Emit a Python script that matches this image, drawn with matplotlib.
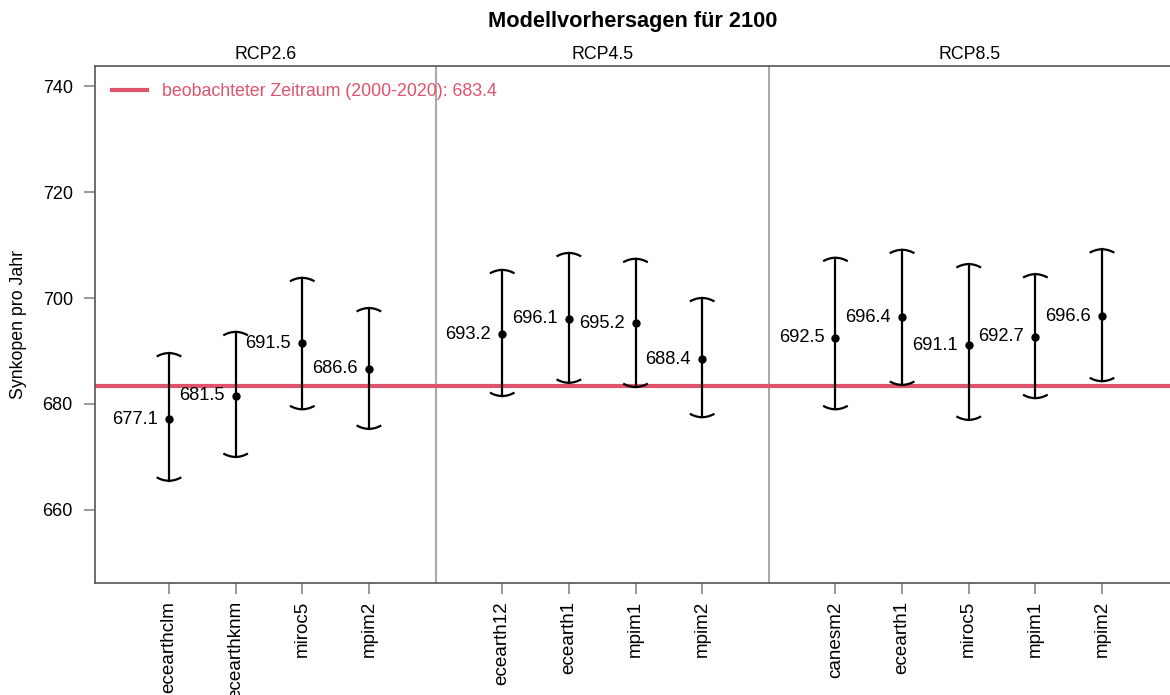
import numpy as np
import matplotlib
matplotlib.use("Agg")
import matplotlib.pyplot as plt

plt.rcParams['font.family'] = ['Liberation Sans', 'DejaVu Sans']

# Modellvorhersagen (Mittelwert) und Unsicherheitsbereich je Szenario
groups = ['RCP2.6', 'RCP4.5', 'RCP8.5']
models_26 = ['ecearthclm', 'ecearthknm', 'miroc5', 'mpim2']
models_45 = ['ecearth12', 'ecearth1', 'mpim1', 'mpim2']
models_85 = ['canesm2', 'ecearth1', 'miroc5', 'mpim1', 'mpim2']

mean_26 = [677.1, 681.5, 691.5, 686.6]
mean_45 = [693.2, 696.1, 695.2, 688.4]
mean_85 = [692.5, 696.4, 691.1, 692.7, 696.6]

lower_26 = [665.5, 670.0, 679.0, 675.3]
upper_26 = [689.6, 693.6, 703.8, 698.1]
lower_45 = [681.5, 684.0, 683.2, 677.5]
upper_45 = [705.3, 708.5, 707.4, 700.0]
lower_85 = [679.0, 683.6, 677.0, 681.1, 684.3]
upper_85 = [707.6, 709.1, 706.4, 704.5, 709.2]

observed = 683.4

red = '#DF536B'

fig = plt.figure(figsize=(11.7, 6.95), dpi=100)
ax = fig.add_axes([0.0812, 0.1612, 0.9188, 0.7438])

models = models_26 + models_45 + models_85
means = mean_26 + mean_45 + mean_85
lows = lower_26 + lower_45 + lower_85
highs = upper_26 + upper_45 + upper_85

# x-Positionen mit einer Lücke zwischen den Szenarien
xpos = []
start = 1
seps = []
for grp in [models_26, models_45, models_85]:
    xpos += list(range(start, start + len(grp)))
    seps.append(start + len(grp))
    start += len(grp) + 1
xpos = np.array(xpos, dtype=float)

ax.set_xlim(-0.11, 16.02)
ax.set_ylim(646.2, 743.8)

ax.axhline(observed, color=red, lw=3, zorder=1)

for s in seps[:-1]:
    ax.axvline(s, color='#aaaaaa', lw=1.5, zorder=0)

cap_w = 0.17
cap_sag = 0.55
t = np.linspace(-1, 1, 30)
for x, m, lo, hi in zip(xpos, means, lows, highs):
    ax.plot([x, x], [lo, hi], color='black', lw=1.6, zorder=3)
    ax.plot(x + cap_w * t, hi - cap_sag * t ** 2, color='black', lw=1.6, zorder=3)
    ax.plot(x + cap_w * t, lo + cap_sag * t ** 2, color='black', lw=1.6, zorder=3)
    ax.plot(x, m, 'o', color='black', ms=5, zorder=4)
    ax.annotate(f'{m:.1f}', (x, m), xytext=(-8, 0), textcoords='offset points',
                ha='right', va='center', fontsize=13.2)

# Szenario-Überschriften
bounds = [ax.get_xlim()[0]] + seps[:-1] + [ax.get_xlim()[1]]
for i, g in enumerate(groups):
    ax.text((bounds[i] + bounds[i + 1]) / 2, 1.006, g, transform=ax.get_xaxis_transform(),
            ha='center', va='bottom', fontsize=12.8)

ax.set_xticks(xpos)
ax.set_xticklabels(models, rotation=90, fontsize=13.6, va='top')
ax.set_yticks([660, 680, 700, 720, 740])
ax.tick_params(axis='both', colors='#888888', labelcolor='black', width=1.2)
ax.tick_params(axis='x', length=8, pad=5, labelsize=13.6)
ax.tick_params(axis='y', length=8, pad=8, labelsize=13)

for side in ['left', 'bottom', 'top']:
    ax.spines[side].set_color('#555555')
    ax.spines[side].set_linewidth(1.2)
ax.spines['right'].set_visible(False)

ax.set_ylabel('Synkopen pro Jahr', fontsize=12.8)
ax.yaxis.set_label_coords(-0.063, 0.5)

ax.legend(['beobachteter Zeitraum (2000-2020): 683.4'], loc='upper left', frameon=False,
          fontsize=12.8, labelcolor=red, handlelength=1.95, handletextpad=0.85,
          borderaxespad=0.55)
leg = ax.get_legend()
leg.legend_handles[0].set_color(red)

ax.set_title('Modellvorhersagen für 2100', fontsize=15.7, fontweight='bold', pad=28)

fig.savefig('out.png', dpi=100)
